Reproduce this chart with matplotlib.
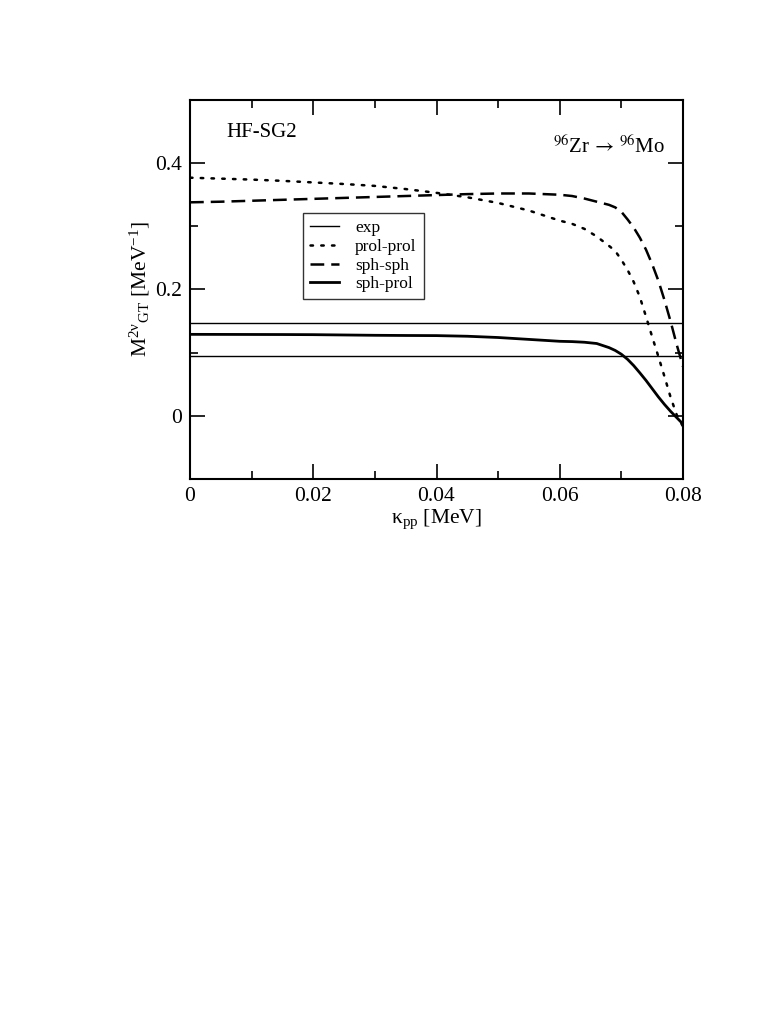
import matplotlib
matplotlib.use("Agg")
import matplotlib.pyplot as plt
from matplotlib.ticker import MultipleLocator

plt.rcParams['font.family'] = ['Liberation Serif', 'DejaVu Serif']
plt.rcParams['mathtext.fontset'] = 'custom'
plt.rcParams['mathtext.rm'] = 'Liberation Serif'
plt.rcParams['mathtext.it'] = 'Liberation Serif:italic'
plt.rcParams['mathtext.bf'] = 'Liberation Serif:bold'
plt.rcParams['mathtext.fallback'] = 'stix'

kappa = [0, 0.005, 0.01, 0.015, 0.02, 0.025, 0.03, 0.035, 0.04, 0.045, 0.05, 0.055,
         0.06, 0.062, 0.064, 0.066, 0.068, 0.069, 0.07, 0.071, 0.072, 0.073, 0.074, 0.075,
         0.076, 0.077, 0.078, 0.079, 0.08]

sph_sph = [0.338, 0.339, 0.3405, 0.342, 0.3435, 0.345, 0.3465, 0.348, 0.3495, 0.351, 0.352, 0.352,
           0.350, 0.348, 0.344, 0.339, 0.334, 0.330, 0.323, 0.311, 0.298, 0.282, 0.263, 0.240,
           0.214, 0.183, 0.149, 0.112, 0.078]

prol_prol = [0.377, 0.3755, 0.374, 0.372, 0.3695, 0.367, 0.364, 0.359, 0.353, 0.346, 0.337, 0.325,
             0.309, 0.304, 0.296, 0.284, 0.269, 0.261, 0.247, 0.231, 0.212, 0.188, 0.157, 0.125,
             0.094, 0.062, 0.029, 0.001, -0.017]

sph_prol = [0.129, 0.1289, 0.1288, 0.1287, 0.1285, 0.128, 0.1275, 0.1272, 0.127, 0.126, 0.124, 0.121,
            0.118, 0.1175, 0.1165, 0.1145, 0.108, 0.1035, 0.0975, 0.0895, 0.0795, 0.068, 0.056, 0.043,
            0.030, 0.018, 0.007, -0.003, -0.013]

exp_values = [0.147, 0.095]

fig = plt.figure(figsize=(7.81, 10.11), dpi=100)
ax = fig.add_axes([190/781, 1-479/1011, 493/781, 379/1011])

for i, v in enumerate(exp_values):
    ax.axhline(v, color='black', lw=1.0, label='exp' if i == 0 else None)
ax.plot(kappa, prol_prol, color='black', lw=1.8, linestyle=(0, (1, 3.3)),
        dash_capstyle='round', label='prol-prol')
ax.plot(kappa, sph_sph, color='black', lw=1.8, linestyle=(0, (5.5, 2.8)), label='sph-sph')
ax.plot(kappa, sph_prol, color='black', lw=2.0, label='sph-prol')

ax.set_xlim(0, 0.08)
ax.set_ylim(-0.1, 0.5)
ax.xaxis.set_major_locator(MultipleLocator(0.02))
ax.xaxis.set_minor_locator(MultipleLocator(0.01))
ax.yaxis.set_major_locator(MultipleLocator(0.2))
ax.yaxis.set_minor_locator(MultipleLocator(0.1))
ax.set_xticks([0, 0.02, 0.04, 0.06, 0.08])
ax.set_xticklabels(['0', '0.02', '0.04', '0.06', '0.08'])
ax.set_yticks([0, 0.2, 0.4])
ax.set_yticklabels(['0', '0.2', '0.4'])
ax.tick_params(which='both', direction='in', top=True, right=True, labelsize=15.5)
ax.tick_params(which='major', length=11, width=1.2, pad=6)
ax.tick_params(which='minor', length=5.5, width=1.2)
for s in ax.spines.values():
    s.set_linewidth(1.5)

ax.set_xlabel('κ$_{\\rm pp}$ [MeV]', fontsize=15.5, labelpad=1)
ax.set_ylabel(r'M$^{\rm 2ν}$$_{\rm GT}$ [MeV$^{-1}$]', fontsize=15.5, labelpad=2)

ax.text(0.073, 0.913, 'HF-SG2', transform=ax.transAxes, fontsize=15, va='center', ha='left')
ax.text(0.963, 0.876, r'$^{96}$Zr$\,\rightarrow\,$$^{96}$Mo', transform=ax.transAxes,
        fontsize=15, va='center', ha='right', math_fontfamily='stix')

leg = ax.legend(loc='upper left', bbox_to_anchor=(113/493, 1-(213-100)/379),
                fontsize=12.5, frameon=True, fancybox=False, edgecolor='black',
                handlelength=1.7, handletextpad=0.9, borderpad=0.4, labelspacing=0.15,
                borderaxespad=0)
leg.get_frame().set_linewidth(1.0)

fig.savefig('out.png', dpi=100)
